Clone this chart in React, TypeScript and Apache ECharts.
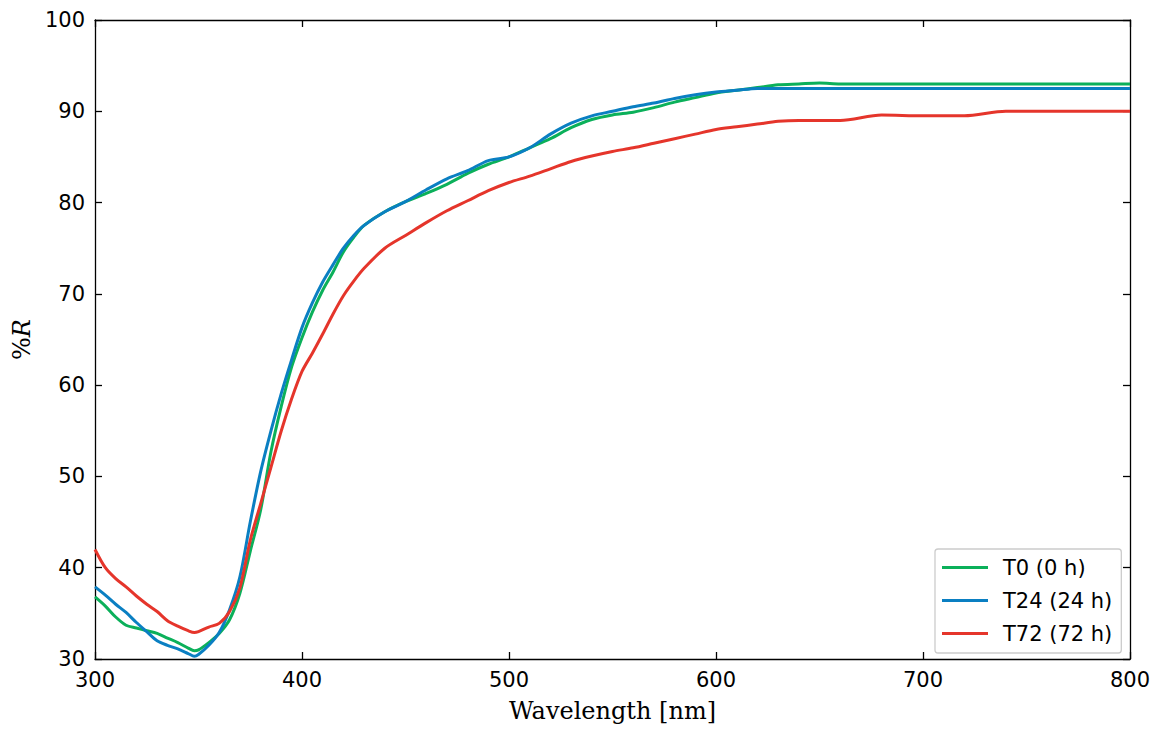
import React, { useEffect, useRef } from "react";
import * as echarts from "echarts";

const wavelengths = [300,305,310,315,320,325,330,335,340,345,348,350,355,360,365,370,375,380,385,390,395,400,405,410,415,420,425,430,440,450,460,470,480,490,500,510,520,530,540,550,560,570,580,590,600,610,620,630,640,650,660,680,700,720,740,760,780,800];

const t0Values = [36.8,35.8,34.6,33.7,33.4,33.1,32.8,32.3,31.8,31.2,30.9,31.0,31.8,32.8,34.3,37.2,41.8,46.3,52.7,57.7,62.0,65.2,68.0,70.4,72.4,74.6,76.2,77.5,79.0,80.1,81.0,82.0,83.2,84.2,85.0,86.0,87.0,88.2,89.1,89.6,89.9,90.4,91.0,91.5,92.0,92.3,92.6,92.9,93.0,93.1,93.0,93.0,93.0,93.0,93.0,93.0,93.0,93.0];

const t24Values = [37.9,37.0,36.0,35.1,34.0,33.0,32.0,31.5,31.1,30.6,30.3,30.5,31.5,32.9,35.4,39.0,45.0,50.5,55.0,59.1,62.8,66.3,69.0,71.3,73.2,75.0,76.4,77.5,79.0,80.1,81.4,82.6,83.5,84.6,85.0,86.0,87.5,88.7,89.5,90.0,90.5,90.9,91.4,91.8,92.1,92.3,92.5,92.5,92.5,92.5,92.5,92.5,92.5,92.5,92.5,92.5,92.5,92.5];

const t72Values = [42.0,40.0,38.8,37.9,36.9,36.0,35.2,34.2,33.6,33.1,32.9,33.0,33.5,33.9,35.2,37.8,43.0,47.0,51.0,55.0,58.5,61.5,63.5,65.6,67.8,69.8,71.4,72.8,75.0,76.4,77.8,79.1,80.2,81.3,82.2,82.9,83.7,84.5,85.1,85.6,86.0,86.5,87.0,87.5,88.0,88.3,88.6,88.9,89.0,89.0,89.0,89.6,89.5,89.5,90.0,90.0,90.0,90.0];

const seriesNames = ["T0 (0 h)", "T24 (24 h)", "T72 (72 h)"];
const seriesColors = ["#0bb05a", "#0a7fc2", "#e5352b"];
const seriesValues = [t0Values, t24Values, t72Values];

export default function App() {
  const ref = useRef<HTMLDivElement>(null);
  useEffect(() => {
    document.body.style.margin = "0";
    const chart = echarts.init(ref.current!, null, { renderer: "svg" });
    const axisLine = { show: true, lineStyle: { color: "#000", width: 1.3 } };
    const tick = { show: true, inside: true, length: 7, lineStyle: { color: "#000", width: 1.3 } };
    const labelStyle = { color: "#000", fontSize: 21, fontFamily: "DejaVu Sans" };
    chart.setOption({
      animation: false,
      backgroundColor: "#fff",
      grid: { left: 95, right: 29, top: 20, bottom: 75, containLabel: false },
      legend: {
        orient: "vertical",
        left: 935,
        top: 549,
        padding: [8, 9, 9, 7],
        itemWidth: 46,
        itemHeight: 3,
        itemGap: 12,
        icon: "rect",
        borderColor: "#cccccc",
        borderWidth: 1.3,
        borderRadius: 3,
        backgroundColor: "#fff",
        data: seriesNames,
        formatter: (n: string) => `{a|${n}}`,
        textStyle: {
          rich: {
            a: { color: "#000", fontSize: 21, fontFamily: "DejaVu Sans", padding: [0, 0, 0, 10] },
          },
        },
      },
      xAxis: [
        {
          type: "value",
          min: 300,
          max: 800,
          interval: 100,
          position: "bottom",
          axisLine,
          axisTick: tick,
          axisLabel: { ...labelStyle, margin: 10 },
          splitLine: { show: false },
          name: "Wavelength [nm]",
          nameLocation: "middle",
          nameGap: 40,
          nameTextStyle: { color: "#000", fontSize: 24, fontFamily: "DejaVu Serif" },
        },
        {
          type: "value",
          min: 300,
          max: 800,
          interval: 100,
          position: "top",
          axisLine,
          axisTick: tick,
          axisLabel: { show: false },
          splitLine: { show: false },
        },
      ],
      yAxis: [
        {
          type: "value",
          min: 30,
          max: 100,
          interval: 10,
          position: "left",
          axisLine,
          axisTick: tick,
          axisLabel: { ...labelStyle, margin: 10 },
          splitLine: { show: false },
          name: "%{i|R}",
          nameLocation: "middle",
          nameRotate: 90,
          nameGap: 61,
          nameTextStyle: {
            color: "#000",
            fontSize: 24,
            fontFamily: "DejaVu Serif",
            rich: { i: { color: "#000", fontSize: 24, fontFamily: "DejaVu Serif", fontStyle: "italic" } },
          },
        },
        {
          type: "value",
          min: 30,
          max: 100,
          interval: 10,
          position: "right",
          axisLine,
          axisTick: tick,
          axisLabel: { show: false },
          splitLine: { show: false },
        },
      ],
      series: seriesNames.map((name, i) => ({
        name,
        type: "line",
        xAxisIndex: 0,
        yAxisIndex: 0,
        smooth: 0.3,
        showSymbol: false,
        symbol: "none",
        color: seriesColors[i],
        lineStyle: { width: 3, color: seriesColors[i] },
        data: wavelengths.map((w, j) => [w, seriesValues[i][j]]),
      })),
    });
    return () => chart.dispose();
  }, []);
  return <div ref={ref} style={{ width: 1159, height: 734 }} />;
}
